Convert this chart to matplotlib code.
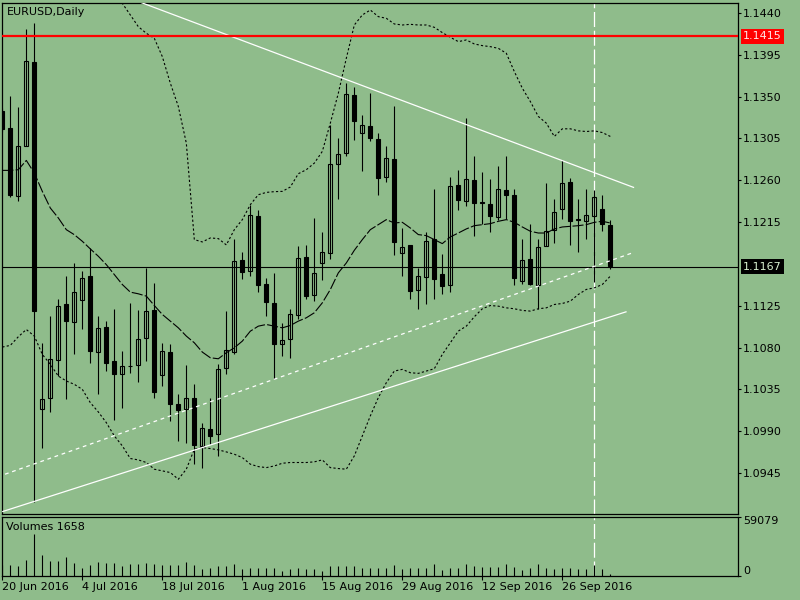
import numpy as np
import pandas as pd
import matplotlib
matplotlib.use('Agg')
import matplotlib.pyplot as plt
import matplotlib.transforms as mtransforms
from matplotlib.patches import Rectangle

# daily bars, 20 Jun 2016 .. 4 Oct 2016
dates = pd.bdate_range('2016-06-20', '2016-10-04')

open_ = [1.13347, 1.13161, 1.12427, 1.12972, 1.13877, 1.10143, 1.10262, 1.10663, 1.11264, 1.11074,
         1.11310, 1.11568, 1.10752, 1.11024, 1.10655, 1.10512, 1.10602, 1.10612, 1.10906, 1.11203,
         1.10501, 1.10756, 1.10190, 1.10136, 1.10254, 1.09742, 1.09929, 1.09868, 1.10584, 1.10756,
         1.11740, 1.11622, 1.12220, 1.11489, 1.11282, 1.10842, 1.10888, 1.11146, 1.11776, 1.11371,
         1.11711, 1.11819, 1.12778, 1.12893, 1.13519, 1.13108, 1.13186, 1.13043, 1.12635, 1.12828,
         1.11819, 1.11908, 1.11425, 1.11561, 1.11969, 1.11597, 1.11472, 1.12553, 1.12374, 1.12606,
         1.12370, 1.12349, 1.12205, 1.12499, 1.12445, 1.11515, 1.11758, 1.11479, 1.11898, 1.12069,
         1.12291, 1.12578, 1.12184, 1.12166, 1.12213, 1.12291, 1.12123]
high = [1.13380, 1.13509, 1.13394, 1.14225, 1.14289, 1.10852, 1.11139, 1.11318, 1.11568, 1.11711,
        1.11622, 1.11873, 1.11139, 1.11085, 1.11217, 1.10763, 1.11275, 1.11210, 1.11658, 1.11497,
        1.10852, 1.10834, 1.10297, 1.10609, 1.10405, 1.09993, 1.10262, 1.10627, 1.11192, 1.11969,
        1.11830, 1.12338, 1.12277, 1.11550, 1.11604, 1.11060, 1.11217, 1.11898, 1.11908, 1.12195,
        1.12041, 1.13197, 1.13054, 1.13645, 1.13602, 1.13305, 1.13537, 1.13108, 1.12972, 1.13401,
        1.12087, 1.11908, 1.11658, 1.12044, 1.12510, 1.11812, 1.12631, 1.12714, 1.13269, 1.12864,
        1.12689, 1.12617, 1.12757, 1.12857, 1.12506, 1.11969, 1.12134, 1.11969, 1.12571, 1.12399,
        1.12814, 1.12624, 1.12399, 1.12506, 1.12499, 1.12445, 1.12177]
low = [1.13120, 1.12420, 1.12374, 1.12964, 1.09134, 1.09725, 1.10108, 1.10494, 1.10244, 1.10727,
       1.10995, 1.10637, 1.10297, 1.10548, 1.10022, 1.10154, 1.10530, 1.10430, 1.10655, 1.10262,
       1.10387, 1.10011, 1.09796, 1.09778, 1.09546, 1.09510, 1.09760, 1.09635, 1.10512, 1.10727,
       1.11540, 1.11575, 1.11396, 1.11139, 1.10458, 1.10709, 1.10691, 1.11110, 1.11328, 1.11300,
       1.11532, 1.11754, 1.12399, 1.12857, 1.13029, 1.12696, 1.13018, 1.12445, 1.12578, 1.11801,
       1.11568, 1.11318, 1.11217, 1.11264, 1.11318, 1.11382, 1.11396, 1.12277, 1.12327, 1.12005,
       1.12134, 1.12041, 1.12177, 1.12184, 1.11479, 1.11489, 1.11479, 1.11217, 1.11891, 1.11926,
       1.12184, 1.11908, 1.11826, 1.11969, 1.11504, 1.12051, 1.11647]
close = [1.13150, 1.12438, 1.12972, 1.13884, 1.11192, 1.10251, 1.10673, 1.11253, 1.11085, 1.11400,
         1.11550, 1.10763, 1.11013, 1.10637, 1.10512, 1.10602, 1.10598, 1.10895, 1.11192, 1.10322,
         1.10763, 1.10190, 1.10129, 1.10262, 1.09750, 1.09939, 1.09850, 1.10573, 1.10770, 1.11729,
         1.11611, 1.12231, 1.11472, 1.11289, 1.10842, 1.10877, 1.11157, 1.11765, 1.11353, 1.11604,
         1.11830, 1.12778, 1.12886, 1.13530, 1.13233, 1.13197, 1.13054, 1.12624, 1.12839, 1.11937,
         1.11883, 1.11407, 1.11575, 1.11951, 1.11540, 1.11461, 1.12535, 1.12384, 1.12614, 1.12356,
         1.12360, 1.12213, 1.12506, 1.12445, 1.11550, 1.11747, 1.11489, 1.11883, 1.12059, 1.12259,
         1.12571, 1.12166, 1.12170, 1.12223, 1.12420, 1.12130, 1.11676]
volume = [11000, 10830, 9846, 15754, 42010, 20677, 14769, 14769, 18379, 12472,
          7549, 10831, 13785, 12472, 12472, 9846, 11487, 11487, 13128, 11487,
          10502, 10502, 10502, 13785, 10502, 6564, 7549, 9846, 9846, 11487,
          7220, 7549, 7877, 7877, 8205, 5251, 7220, 7549, 7220, 7220,
          4923, 9518, 9846, 9518, 9518, 8205, 7549, 7549, 7549, 10502,
          6564, 7549, 7549, 7549, 11487, 5908, 7549, 7549, 11487, 9846,
          9190, 9190, 9190, 11487, 9190, 5908, 7549, 11487, 7549, 6564,
          7549, 7549, 6564, 6564, 10831, 6564, 1658]

# bands
band_upper = [1.1480, 1.1478, 1.1476, 1.1475, 1.1500, 1.1520, 1.1525, 1.1522, 1.1518, 1.1510,
              1.1500, 1.1490, 1.1480, 1.1470, 1.1463, 1.14504, 1.14379, 1.14253, 1.14182, 1.14128,
              1.13931, 1.13645, 1.13395, 1.13000, 1.11962, 1.11937, 1.11980, 1.11973, 1.11905, 1.12069,
              1.12177, 1.12338, 1.12445, 1.12470, 1.12478, 1.12481, 1.12528, 1.12671, 1.12714, 1.12785,
              1.12911, 1.13215, 1.13537, 1.13913, 1.14271, 1.14379, 1.14432, 1.14361, 1.14343, 1.14282,
              1.14271, 1.14278, 1.14271, 1.14271, 1.14246, 1.14189, 1.14139, 1.14092, 1.14110, 1.14067,
              1.14049, 1.14038, 1.14020, 1.13967, 1.13770, 1.13591, 1.13448, 1.13287, 1.13215, 1.13072,
              1.13154, 1.13154, 1.13132, 1.13125, 1.13132, 1.13114, 1.13072]
band_mid = [1.12707, 1.12707, 1.12714, 1.12814, 1.12678, 1.12481, 1.12302, 1.12195, 1.12069, 1.12015,
            1.11944, 1.11862, 1.11783, 1.11693, 1.11586, 1.11479, 1.11397, 1.11379, 1.11354, 1.11253,
            1.11157, 1.11085, 1.11013, 1.10924, 1.10852, 1.10752, 1.10691, 1.10680, 1.10745, 1.10798,
            1.10870, 1.10977, 1.11031, 1.11049, 1.11031, 1.11013, 1.11038, 1.11085, 1.11121, 1.11175,
            1.11282, 1.11425, 1.11604, 1.11711, 1.11847, 1.11962, 1.12069, 1.12123, 1.12177, 1.12141,
            1.12148, 1.12087, 1.12016, 1.12005, 1.11962, 1.11919, 1.11991, 1.12033, 1.12077, 1.12112,
            1.12123, 1.12134, 1.12159, 1.12177, 1.12148, 1.12098, 1.12052, 1.12033, 1.12033, 1.12077,
            1.12098, 1.12105, 1.12112, 1.12123, 1.12148, 1.12159, 1.12141]
band_lower = [1.10806, 1.10824, 1.10917, 1.10995, 1.10924, 1.10727, 1.10620, 1.10494, 1.10441, 1.10405,
              1.10351, 1.10208, 1.10108, 1.09993, 1.09850, 1.09743, 1.09607, 1.09592, 1.09564, 1.09492,
              1.09474, 1.09456, 1.09384, 1.09492, 1.09707, 1.09725, 1.09714, 1.09700, 1.09678, 1.09653,
              1.09617, 1.09546, 1.09520, 1.09509, 1.09527, 1.09556, 1.09564, 1.09564, 1.09564, 1.09571,
              1.09592, 1.09509, 1.09499, 1.09492, 1.09635, 1.09850, 1.10065, 1.10262, 1.10423, 1.10548,
              1.10566, 1.10530, 1.10523, 1.10548, 1.10573, 1.10727, 1.10852, 1.10978, 1.11031, 1.11132,
              1.11218, 1.11253, 1.11246, 1.11228, 1.11218, 1.11200, 1.11193, 1.11218, 1.11228, 1.11264,
              1.11275, 1.11300, 1.11372, 1.11426, 1.11443, 1.11479, 1.11569]

# trendlines: (bar index, price) start/end
trend_down = [(17.4, 1.14511), (78.9, 1.12524)]
trend_up = [(0.05, 1.09037), (77.96, 1.11185)]
trend_up_dashed = [(0.34, 1.09438), (78.75, 1.11819)]

resistance = 1.1415
bid = 1.1167
marker_bar = 74  # 30 Sep 2016

price_ticks = [1.1440, 1.1395, 1.1350, 1.1305, 1.1260, 1.1215, 1.1125, 1.1080, 1.1035, 1.0990, 1.0945]
date_ticks = [0, 10, 20, 30, 40, 50, 60, 70]
date_labels = ['20 Jun 2016', '4 Jul 2016', '18 Jul 2016', '1 Aug 2016',
               '15 Aug 2016', '29 Aug 2016', '12 Sep 2016', '26 Sep 2016']
vol_max = 59079

bg = '#8FBC8B'
x = np.arange(len(dates))

fig = plt.figure(figsize=(8, 6), dpi=100, facecolor=bg)
ax = fig.add_axes([2/800, 1 - 514/600, 736/800, 511.5/600], facecolor=bg)
axv = fig.add_axes([2/800, 1 - 576/600, 736/800, 59.5/600], facecolor=bg, sharex=ax)

# candles
ax.vlines(x, low, high, color='black', lw=0.8, zorder=2)
w = 0.5
for i in range(len(x)):
    o, c = open_[i], close[i]
    fc = 'black' if c < o else 'none'
    ax.add_patch(Rectangle((x[i] - w/2, min(o, c)), w, abs(c - o),
                           facecolor=fc, edgecolor='black', lw=0.8, zorder=2.5))

# indicator lines
ax.plot(x, band_upper, color='black', lw=0.8, ls=(0, (2, 2)), zorder=3)
ax.plot(x, band_lower, color='black', lw=0.8, ls=(0, (2, 2)), zorder=3)
ax.plot(x, band_mid, color='black', lw=0.8, ls=(0, (10, 2)), zorder=3)

# objects
for pts, ls in [(trend_down, '-'), (trend_up, '-'), (trend_up_dashed, (0, (3, 3)))]:
    ax.plot([pts[0][0], pts[1][0]], [pts[0][1], pts[1][1]], color='white', lw=0.9, ls=ls, zorder=4)
ax.axhline(resistance, color='red', lw=1.6, zorder=4)
ax.axhline(bid, color='black', lw=0.8, zorder=1.5)
ax.axvline(marker_bar, color='white', lw=0.9, ls=(0, (12, 3)), zorder=1.6)

ax.set_xlim(-0.04, 91.96)
ax.set_ylim(1.0901, 1.14513)
ax.yaxis.tick_right()
ax.set_yticks(price_ticks)
ax.set_yticklabels([f'{p:.4f}' for p in price_ticks])
ax.tick_params(axis='y', direction='out', length=2.5, width=0.8, pad=1, labelsize=8, colors='black')
ax.tick_params(axis='x', bottom=False, labelbottom=False)
for s in ax.spines.values():
    s.set_linewidth(0.9)

# price labels on the right
trans = mtransforms.blended_transform_factory(ax.transAxes, ax.transData)
ax.text(1.0072, resistance, f'{resistance:.4f}', transform=trans, va='center', ha='left',
        fontsize=8, color='#FFE6E6', bbox=dict(boxstyle='square,pad=0.22', fc='red', ec='none'))
ax.text(1.0072, bid, f'{bid:.4f}', transform=trans, va='center', ha='left',
        fontsize=8, color='#D8F0D0', bbox=dict(boxstyle='square,pad=0.22', fc='black', ec='none'))

# volumes
axv.vlines(x, 0, volume, color='black', lw=0.8, zorder=2)
axv.axvline(marker_bar, color='white', lw=0.9, ls=(0, (12, 3)), zorder=1.6)
axv.set_ylim(0, vol_max)
axv.yaxis.tick_right()
axv.set_yticks([0, vol_max])
axv.set_yticklabels(['0', str(vol_max)])
labs = axv.get_yticklabels()
labs[0].set_va('bottom')
labs[1].set_va('top')
axv.tick_params(axis='y', direction='out', length=2.5, width=0.8, pad=1, labelsize=8)
axv.set_xticks(date_ticks)
axv.set_xticklabels(date_labels, ha='left')
axv.tick_params(axis='x', direction='out', length=3, width=0.8, pad=1.5, labelsize=8)
for s in axv.spines.values():
    s.set_linewidth(0.9)

fig.text(7/800, 1 - 12/600, 'EURUSD,Daily', fontsize=8, va='center', ha='left')
fig.text(6/800, 1 - 527.5/600, 'Volumes 1658', fontsize=8, va='center', ha='left')

fig.savefig('out.png', dpi=100, facecolor=bg)
